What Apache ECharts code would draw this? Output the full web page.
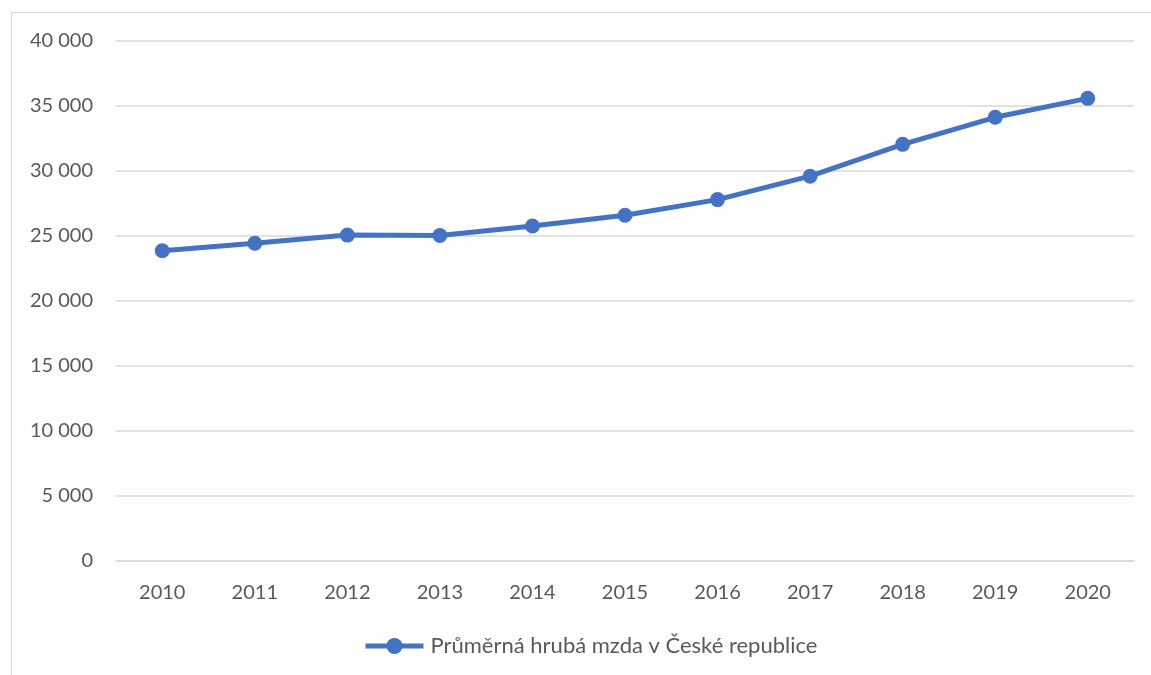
<!DOCTYPE html>
<html><head><meta charset="utf-8">
<script src="https://cdn.jsdelivr.net/npm/echarts@6/dist/echarts.min.js"></script>
<style>html,body{margin:0;padding:0;background:#fff}#c{width:1151px;height:675px}</style>
</head><body><div id="c"></div>
<script>
const years = ['2010','2011','2012','2013','2014','2015','2016','2017','2018','2019','2020'];
const wages = [23870, 24440, 25070, 25040, 25770, 26600, 27800, 29600, 32050, 34130, 35590];
const seriesName = 'Průměrná hrubá mzda v České republice';

const font = 'Lato, "Open Sans", sans-serif';
const chart = echarts.init(document.getElementById('c'));
chart.setOption({
  animation: false,
  backgroundColor: '#fff',
  graphic: [{
    type: 'rect', silent: true,
    shape: { x: 11.5, y: 12.5, width: 1200, height: 700 },
    style: { fill: 'none', stroke: '#d9d9d9', lineWidth: 1 }
  }],
  grid: { left: 116, right: 17, top: 41, bottom: 114, containLabel: false },
  legend: {
    bottom: 13, left: 358,
    itemWidth: 58, itemHeight: 20, itemGap: 10,
    lineStyle: { width: 5 },
    textStyle: { fontFamily: font, fontSize: 22, color: '#595959', padding: [0, 0, 0, 2] },
    data: [seriesName]
  },
  xAxis: {
    type: 'category', data: years, boundaryGap: true,
    axisLine: { show: true, lineStyle: { color: '#d9d9d9', width: 1.5 } },
    axisTick: { show: false },
    axisLabel: { fontFamily: font, fontSize: 20, color: '#595959', margin: 22 }
  },
  yAxis: {
    type: 'value', min: 0, max: 40000, interval: 5000,
    axisLine: { show: false }, axisTick: { show: false },
    splitLine: { lineStyle: { color: '#d9d9d9', width: 1.5 } },
    axisLabel: {
      fontFamily: font, fontSize: 20, color: '#595959', margin: 23,
      formatter: v => String(v).replace(/\B(?=(\d{3})+(?!\d))/g, ' ')
    }
  },
  series: [{
    name: seriesName, type: 'line', data: wages,
    symbol: 'circle', symbolSize: 15,
    lineStyle: { color: '#4472C4', width: 5 },
    itemStyle: { color: '#4472C4' }
  }]
});
</script></body></html>
